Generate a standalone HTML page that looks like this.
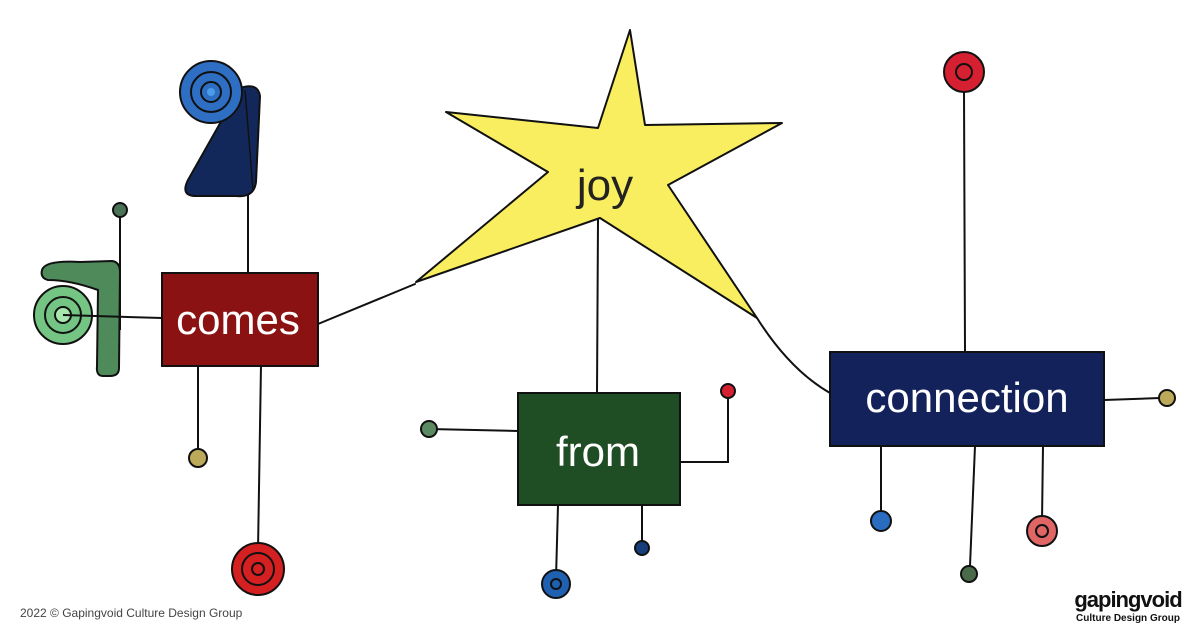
<!DOCTYPE html>
<html><head><meta charset="utf-8"><style>
html,body{margin:0;padding:0;background:#fff;}
svg{display:block;}
text{font-family:"Liberation Sans",sans-serif;}
</style></head><body>
<svg width="1200" height="630" viewBox="0 0 1200 630" xmlns="http://www.w3.org/2000/svg">
<g stroke="#111" stroke-width="2" fill="none" stroke-linecap="round">
<path d="M248 195 L248 275"/>
<path d="M198 365 L198 450"/>
<path d="M261 365 L258 550"/>
<path d="M318 324 L415 284"/>
<path d="M598 220 L597 393"/>
<path d="M757 318 Q790 370 830 393"/>
<path d="M429 429 L518 431"/>
<path d="M681 462 L728 462 L728 392"/>
<path d="M558 505 L556 578"/>
<path d="M642 505 L642 542"/>
<path d="M964 90 L965 352"/>
<path d="M1104 400 L1160 398"/>
<path d="M881 446 L881 514"/>
<path d="M975 446 L970 566"/>
<path d="M1043 446 L1042 522"/>
</g>
<!-- star -->
<path d="M630 30 L645 125 L782 123 L668 185 L757 318 L600 218 L416 282 L548 172 L446 112 L598 128 Z" fill="#f9ee5f" stroke="#111" stroke-width="2" stroke-linejoin="round"/>
<text x="605" y="200" font-size="44" text-anchor="middle" fill="#222" font-family="Liberation Sans">joy</text>
<!-- blue triangle & spiral -->
<path d="M240 88 Q258 82 260 96 L256 182 Q254 198 236 196 L196 196 Q180 196 188 180 Z" fill="#13285a" stroke="#111" stroke-width="2" stroke-linejoin="round"/>
<path d="M245 90 L253 190" stroke="#111" stroke-width="1.5" fill="none"/>
<circle cx="211" cy="92" r="31" fill="#2e6fc4" stroke="#111" stroke-width="2"/>
<circle cx="211" cy="92" r="20" fill="none" stroke="#111" stroke-width="2"/>
<circle cx="211" cy="92" r="10" fill="none" stroke="#111" stroke-width="2"/>
<circle cx="211" cy="92" r="4" fill="#4a9be8"/>
<!-- green -->
<path d="M42 270 Q45 260 80 262 L112 261 Q120 262 120 272 L119 368 Q119 376 110 376 L103 376 Q96 376 97 366 L98 290 Q70 280 48 280 Q40 278 42 270 Z" fill="#4f8a5a" stroke="#111" stroke-width="2" stroke-linejoin="round"/>
<path d="M120 212 L120 330" stroke="#111" stroke-width="2"/>
<circle cx="63" cy="315" r="29" fill="#74c484" stroke="#111" stroke-width="2"/>
<circle cx="63" cy="315" r="18" fill="none" stroke="#111" stroke-width="2"/>
<circle cx="63" cy="315" r="8" fill="#a8e6ae" stroke="#111" stroke-width="2"/>
<path d="M63 315 L162 318" stroke="#111" stroke-width="2"/>
<g stroke="#111" stroke-width="2">
<circle cx="120" cy="210" r="7" fill="#4a7255"/>
<circle cx="198" cy="458" r="9" fill="#bca95a"/>
<circle cx="258" cy="569" r="26" fill="#d42020"/>
<circle cx="258" cy="569" r="16" fill="none"/>
<circle cx="258" cy="569" r="6" fill="none"/>
<circle cx="429" cy="429" r="8" fill="#5b8a62"/>
<circle cx="728" cy="391" r="7" fill="#d42030"/>
<circle cx="556" cy="584" r="14" fill="#2060b0"/>
<circle cx="556" cy="584" r="5" fill="none"/>
<circle cx="642" cy="548" r="7" fill="#163e7a"/>
<circle cx="964" cy="72" r="20" fill="#d42030"/>
<circle cx="964" cy="72" r="8" fill="none"/>
<circle cx="1167" cy="398" r="8" fill="#bca95a"/>
<circle cx="881" cy="521" r="10" fill="#2a6cc0"/>
<circle cx="969" cy="574" r="8" fill="#4a6a4a"/>
<circle cx="1042" cy="531" r="15" fill="#e06565"/>
<circle cx="1042" cy="531" r="6" fill="none"/>
</g>
<rect x="162" y="273" width="156" height="93" fill="#8b1212" stroke="#111" stroke-width="2"/>
<text x="238" y="334" font-size="42" text-anchor="middle" fill="#fff">comes</text>
<rect x="518" y="393" width="162" height="112" fill="#1f4d24" stroke="#111" stroke-width="2"/>
<text x="598" y="466" font-size="42" text-anchor="middle" fill="#fff">from</text>
<rect x="830" y="352" width="274" height="94" fill="#13225a" stroke="#111" stroke-width="2"/>
<text x="967" y="412" font-size="42" text-anchor="middle" fill="#fff">connection</text>
<text x="20" y="617" font-size="12" fill="#444">2022 © Gapingvoid Culture Design Group</text>
<text x="1128" y="607" font-size="22" font-weight="bold" text-anchor="middle" fill="#111" letter-spacing="-1">gapingvoid</text>
<text x="1128" y="621" font-size="10" font-weight="bold" text-anchor="middle" fill="#111">Culture Design Group</text>
</svg>
</body></html>
